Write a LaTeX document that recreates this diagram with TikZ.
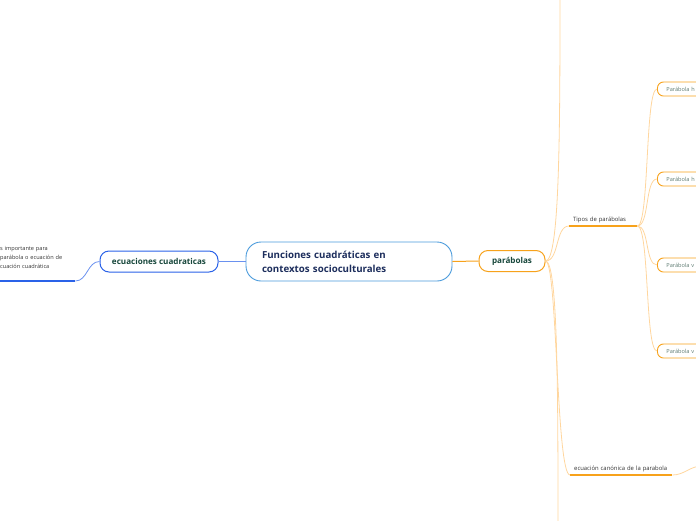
\documentclass[tikz,border=0pt]{standalone}
\usepackage{fontspec}
\setmainfont{Open Sans}
\definecolor{topicblue}{HTML}{4A9BDC}
\definecolor{leftblue}{HTML}{2A62E8}
\definecolor{maporange}{HTML}{F7A21B}
\definecolor{lightorange}{HTML}{FFD69E}
\definecolor{navytext}{HTML}{1C2D5C}
\definecolor{greentext}{HTML}{17473B}
\definecolor{greytext}{HTML}{5F7C73}
\usetikzlibrary{
    positioning
}
\tikzstyle{topic} = [
    rectangle,
    rounded corners=15pt,
    draw=topicblue,
    line width=0.9pt,
    fill=white,
    text width=174pt,
    inner xsep=16pt,
    minimum height=39pt,
    align=left,
    text=navytext,
    font=\fontsize{9.7}{14}\selectfont\bfseries
]
\tikzstyle{branch} = [
    rectangle,
    rounded corners=9pt,
    line width=1pt,
    fill=white,
    minimum height=21pt,
    text=greentext,
    font=\fontsize{8.1}{9}\selectfont\bfseries
]
\tikzstyle{typebox} = [
    rectangle,
    rounded corners=6pt,
    draw=maporange,
    line width=0.9pt,
    fill=white,
    text width=60pt,
    inner xsep=9pt,
    minimum height=14pt,
    align=left,
    text=greytext,
    font=\fontsize{5.6}{6}\selectfont
]
\tikzstyle{label} = [
    inner xsep=4pt,
    inner ysep=2.5pt,
    align=left,
    text=black!80,
    font=\fontsize{5.9}{9}\selectfont
]
\tikzstyle{twig} = [
    draw=lightorange,
    line width=0.8pt
]
\tikzstyle{underline} = [
    draw=maporange,
    line width=1.2pt
]

\begin{document}
\begin{tikzpicture}[x=1pt, y=-1pt]
        \useasboundingbox (0,0) rectangle (696,520);
        \clip (0,0) rectangle (696,520);

        % Central topic
        \node[topic] (central) at (349,261.5) {Funciones cuadráticas en\\contextos socioculturales};

        % Main branches
        \node[branch, draw=leftblue, minimum width=118pt] (ecuaciones) at (159,261.5) {ecuaciones cuadraticas};
        \node[branch, draw=maporange, minimum width=66pt] (parabolas) at (512,261) {parábolas};

        % Left note
        \node[label, anchor=south west, text width=74pt, inner xsep=1pt, inner ysep=12pt, font=\fontsize{5.6}{9}\selectfont] (nota) at (-1,281) {s importante para\\parábola o ecuación de\\cuación cuadrática};

        % Sub topics
        \node[label, anchor=south west, text width=60pt] (tipos) at (569,226) {Tipos de parábolas};
        \node[label, anchor=south west, text width=94pt] (canonica) at (570,475) {ecuación canónica de la parabola};

        % Types
        \node[typebox, anchor=west] (horizA) at (657,89) {Parábola h};
        \node[typebox, anchor=west] (horizB) at (657,179) {Parábola h};
        \node[typebox, anchor=west] (vertA) at (657,265) {Parábola v};
        \node[typebox, anchor=west] (vertB) at (657,351) {Parábola v};

        % Free ends
        \coordinate (topend) at (560,-4);
        \coordinate (botend) at (558,524);
        \coordinate (rightend) at (702,466);

        % Connectors
        \draw[draw=leftblue!70, line width=1pt] (central.west) -- (ecuaciones.east);
        \draw[draw=maporange, line width=1pt] (central.east) -- (parabolas.west);
        \draw[draw=leftblue!70, line width=0.8pt] (ecuaciones.west) .. controls +(-12,0) and +(12,0) .. (nota.south east);
        \draw[draw=leftblue, line width=1.2pt] (nota.south west) -- (nota.south east);

        \draw[twig] (parabolas.east) .. controls +(14,0) and +(0,140) .. (topend);
        \draw[twig] (parabolas.east) .. controls +(12,0) and +(0,-140) .. (botend);
        \draw[twig] (parabolas.east) .. controls +(14,0) and +(-14,0) .. (tipos.south west);
        \draw[twig] (parabolas.east) .. controls +(12,0) and +(-14,0) .. (canonica.south west);
        \draw[underline] (tipos.south west) -- (tipos.south east);
        \draw[underline] (canonica.south west) -- (canonica.south east);
        \draw[twig] (canonica.south east) .. controls +(12,0) and +(-12,0) .. (rightend);

        \draw[twig] (tipos.south east) .. controls +(12,0) and +(-12,0) .. (horizA.west);
        \draw[twig] (tipos.south east) .. controls +(12,0) and +(-12,0) .. (horizB.west);
        \draw[twig] (tipos.south east) .. controls +(12,0) and +(-12,0) .. (vertA.west);
        \draw[twig] (tipos.south east) .. controls +(12,0) and +(-12,0) .. (vertB.west);
\end{tikzpicture}
\end{document}
